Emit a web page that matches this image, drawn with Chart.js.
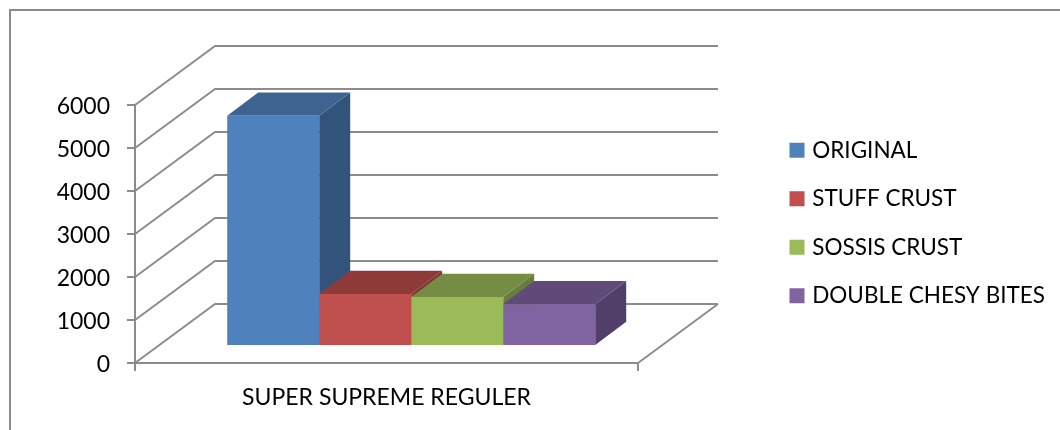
<!DOCTYPE html>
<html>
<head>
    <meta charset="UTF-8">
    <title>Super Supreme Reguler</title>
    <script src="https://cdn.jsdelivr.net/npm/chart.js"></script>
    <style>
        body {
            margin: 0;
            background: #fff;
        }

        #frame {
            position: absolute;
            left: 9px;
            top: 9px;
            right: 0;
            bottom: 0;
            border-left: 2px solid #8c8c8c;
            border-top: 2px solid #8c8c8c;
        }

        #chart {
            position: absolute;
            left: 0;
            top: 0;
        }
    </style>
</head>
<body>
<div id="frame"></div>
<canvas id="chart" width="1060" height="430"></canvas>

<script>
    var categories = ['SUPER SUPREME REGULER'];
    var seriesNames = ['ORIGINAL', 'STUFF CRUST', 'SOSSIS CRUST', 'DOUBLE CHESY BITES'];
    var seriesValues = [[5356], [1209], [1140], [970]];

    var frontColors = ['#4f81bd', '#c0504d', '#9bbb59', '#8064a2'];
    var topColors = ['#3e6391', '#8d3a38', '#748c43', '#5f4a79'];
    var sideColors = ['#32547b', '#7f3432', '#677d3b', '#523f69'];

    var lineColor = '#8c8c8c';
    var axisFont = { family: 'Lato', size: 23 };
    var legendFont = { family: 'Lato', size: 22.5 };

    // the box is tilted: the back wall sits this far from the front plane
    var wallDx = 80, wallDy = -59;
    // bars stand part way along the floor, and have their own depth
    var floorDx = 24.7, floorDy = -17;
    var barDx = 31, barDy = -23.3;

    function quad(ctx, color, points) {
        ctx.fillStyle = color;
        ctx.beginPath();
        ctx.moveTo(points[0], points[1]);
        ctx.lineTo(points[2], points[3]);
        ctx.lineTo(points[4], points[5]);
        ctx.lineTo(points[6], points[7]);
        ctx.closePath();
        ctx.fill();
    }

    var boxPlugin = {
        id: 'box3d',
        afterLayout: function(chart) {
            // legend sits outside the plot, to the right of the back wall
            var legend = chart.legend;
            legend.left = 767;
            legend.right = 1060;
            legend.top = 113;
            legend.bottom = 345;
        },
        beforeDatasetsDraw: function(chart) {
            var ctx = chart.ctx;
            var x = chart.scales.x;
            var y = chart.scales.y;

            // wall lines, one per tick, then the floor edge on the right
            ctx.strokeStyle = lineColor;
            ctx.lineWidth = 2;
            y.ticks.forEach(function(tick) {
                var py = y.getPixelForValue(tick.value);
                ctx.beginPath();
                ctx.moveTo(x.left, py);
                ctx.lineTo(x.left + wallDx, py + wallDy);
                ctx.lineTo(x.right + wallDx, py + wallDy);
                ctx.stroke();
            });
            ctx.beginPath();
            ctx.moveTo(x.right, y.bottom);
            ctx.lineTo(x.right + wallDx, y.bottom + wallDy);
            ctx.stroke();

            ctx.save();
            ctx.translate(floorDx, floorDy);

            // left to right, so that each bar's top covers its neighbour's side
            chart.data.datasets.forEach(function(ds, i) {
                var bar = chart.getDatasetMeta(i).data[0];
                var l = bar.x - bar.width / 2;
                var r = bar.x + bar.width / 2;
                quad(ctx, sideColors[i], [r, bar.y, r + barDx, bar.y + barDy, r + barDx, bar.base + barDy, r, bar.base]);
                quad(ctx, topColors[i], [l, bar.y, l + barDx, bar.y + barDy, r + barDx, bar.y + barDy, r, bar.y]);
            });
        },
        afterDatasetsDraw: function(chart) {
            chart.ctx.restore();
        }
    };

    new Chart(document.getElementById('chart'), {
        type: 'bar',
        data: {
            labels: categories,
            datasets: seriesNames.map(function(name, i) {
                return {
                    label: name,
                    data: seriesValues[i],
                    backgroundColor: frontColors[i],
                    clip: false
                };
            })
        },
        plugins: [boxPlugin],
        options: {
            responsive: false,
            animation: false,
            categoryPercentage: 0.7316,
            barPercentage: 1,
            layout: {
                padding: { top: 105, right: 422 }
            },
            scales: {
                x: {
                    afterFit: function(scale) { scale.height = 67; },
                    border: { color: lineColor, width: 2 },
                    grid: {
                        offset: true,
                        drawOnChartArea: false,
                        color: lineColor,
                        lineWidth: 2,
                        tickLength: 8
                    },
                    ticks: { color: '#000', font: axisFont, padding: 13, maxRotation: 0 }
                },
                y: {
                    min: 0,
                    max: 6000,
                    afterFit: function(scale) { scale.width = 135; },
                    border: { color: lineColor, width: 2 },
                    grid: {
                        drawOnChartArea: false,
                        color: lineColor,
                        lineWidth: 2,
                        tickLength: 8
                    },
                    ticks: {
                        color: '#000',
                        font: axisFont,
                        padding: 17,
                        labelOffset: 2,
                        stepSize: 1000,
                        callback: function(value) { return String(value); }
                    }
                }
            },
            plugins: {
                tooltip: { enabled: false },
                legend: {
                    position: 'chartArea',
                    align: 'start',
                    labels: {
                        color: '#000',
                        font: legendFont,
                        padding: 26,
                        boxWidth: 8,
                        boxHeight: 8,
                        generateLabels: function(chart) {
                            var items = Chart.defaults.plugins.legend.labels.generateLabels(chart);
                            items.forEach(function(item) {
                                item.strokeStyle = item.fillStyle;
                                item.lineWidth = 7;
                            });
                            return items;
                        }
                    }
                }
            }
        }
    });
</script>
</body>
</html>
